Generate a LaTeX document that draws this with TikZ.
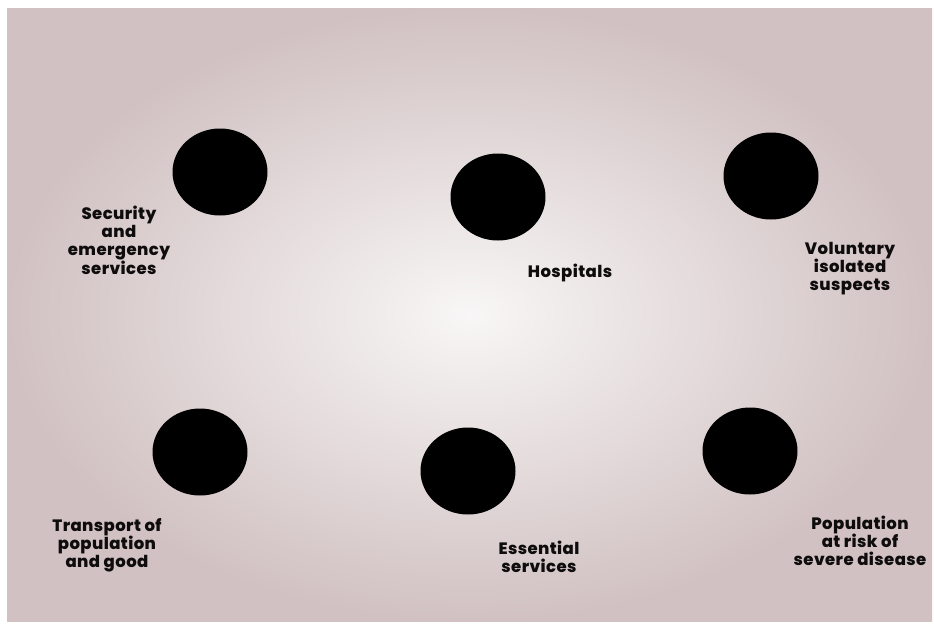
\documentclass[tikz,border=0pt]{standalone}
\usepackage{fontspec}
\setmainfont{Poppins}[BoldFont={* ExtraBold}, BoldFeatures={LetterSpace=2.5}]
\usetikzlibrary{shapes.geometric}

\definecolor{paperedge}{RGB}{209,193,194}
\definecolor{papermid}{RGB}{248,246,246}
\definecolor{ink}{RGB}{14,12,12}

\begin{document}
\begin{tikzpicture}[
    x=1pt, y=-1pt,
    dot/.style={ellipse, fill=black, minimum width=95pt, minimum height=87pt, inner sep=0pt},
    lbl/.style={align=center, text=ink, font=\bfseries\fontsize{16.5}{18}\selectfont, inner sep=0pt}
  ]
  % page and paper
  \fill[white] (0,0) rectangle (934,624);
  \useasboundingbox (0,0) rectangle (934,624);
  \shade[inner color=papermid, outer color=paperedge] (7,8) rectangle (932,621);

  % Top row
  \node[dot] (secdot) at (220,172) {};
  \node[dot] (hospdot) at (498,197) {};
  \node[dot] (voldot) at (771,176) {};

  % Bottom row
  \node[dot] (transdot) at (200,452) {};
  \node[dot] (essdot) at (468,471) {};
  \node[dot] (riskdot) at (750,451) {};

  % Labels
  \node[lbl] (sec) at (119,240) {Security\\and\\emergency\\services};
  \node[lbl] (hosp) at (570,273) {Hospitals};
  \node[lbl] (vol) at (850,269) {Voluntary\\isolated\\suspects};
  \node[lbl] (trans) at (107,545) {Transport of\\population\\and good};
  \node[lbl] (ess) at (539,557) {Essential\\services};
  \node[lbl] (risk) at (860,541) {Population\\at risk of\\severe disease};
\end{tikzpicture}
\end{document}
